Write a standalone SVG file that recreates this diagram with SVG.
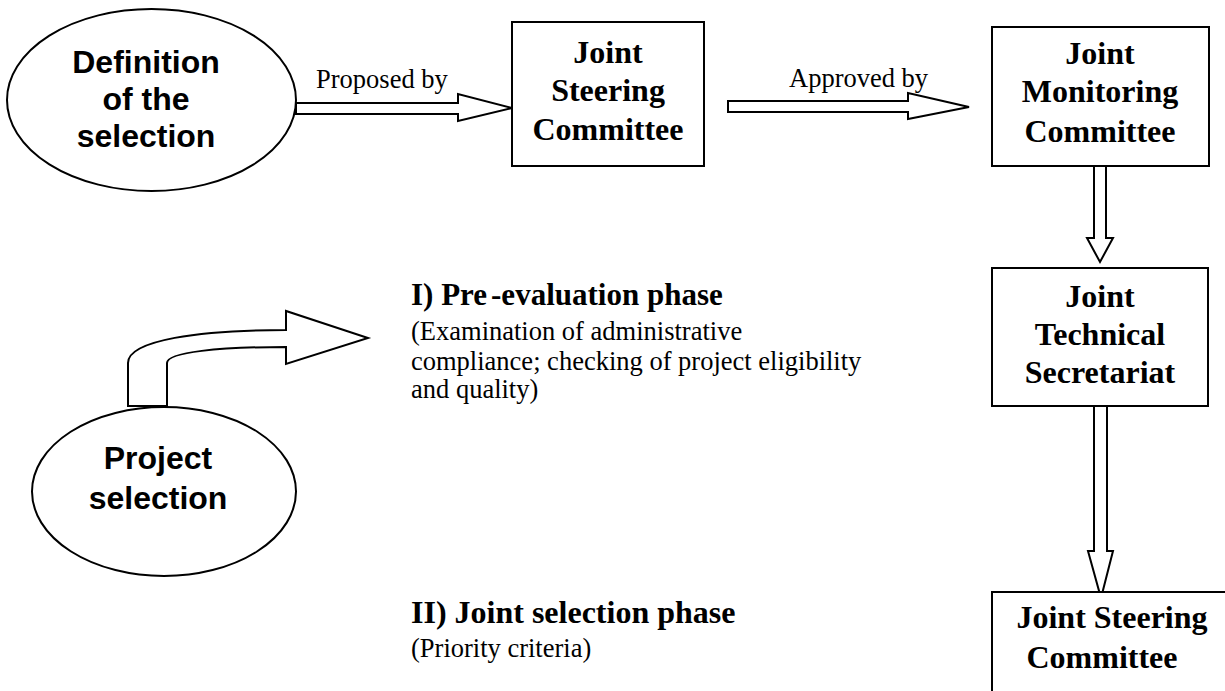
<svg xmlns="http://www.w3.org/2000/svg" width="1225" height="691" viewBox="0 0 1225 691">
<style>
.shape{fill:#fff;stroke:#000;stroke-width:2}
.arr{fill:#fff;stroke:#000;stroke-width:2;stroke-linejoin:miter}
.sans{font-family:"Liberation Sans",Arial,sans-serif;font-weight:bold;font-size:32px;text-anchor:middle}
.serifb{font-family:"Liberation Serif","Times New Roman",serif;font-weight:bold;font-size:32px;text-anchor:middle}
.head{font-family:"Liberation Serif","Times New Roman",serif;font-weight:bold;font-size:31px}
.body{font-family:"Liberation Serif","Times New Roman",serif;font-size:26.5px}
</style>
<rect width="1225" height="691" fill="#fff"/>
<g id="connectors">
<path class="arr" d="M296,103 L458,103 L458,94 L512,108 L458,121 L458,114 L296,114 Z"/>
<path class="arr" d="M728,101 L908,101 L908,93 L969,107 L908,119 L908,112 L728,112 Z"/>
<path class="arr" d="M1094,166 L1094,238 L1087,238 L1100,262 L1113,238 L1106,238 L1106,166 Z"/>
<path class="arr" d="M1094,406 L1094,551 L1088,551 L1101,598 L1113,551 L1107,551 L1107,406 Z"/>
<path class="arr" d="M128,406 L128,363 C128,340 200,330 286,330 L286,311 L368,338 L286,364 L286,347 C220,347 167,352 167,363 L167,406 Z"/>
</g>
<g id="definition">
<ellipse class="shape" cx="151.5" cy="100" rx="144.5" ry="91"/>
<text class="sans" x="146" y="73">Definition</text>
<text class="sans" x="146" y="110">of the</text>
<text class="sans" x="146" y="147">selection</text>
</g>
<g id="label-proposed"><text class="body" x="316" y="88">Proposed by</text></g>
<g id="jsc1">
<rect class="shape" x="512" y="22" width="192" height="144"/>
<text class="serifb" x="608" y="63">Joint</text>
<text class="serifb" x="608" y="101">Steering</text>
<text class="serifb" x="608" y="140">Committee</text>
</g>
<g id="label-approved"><text class="body" x="789" y="87">Approved by</text></g>
<g id="jmc">
<rect class="shape" x="992" y="27" width="217" height="139"/>
<text class="serifb" x="1100" y="64">Joint</text>
<text class="serifb" x="1100" y="102">Monitoring</text>
<text class="serifb" x="1100" y="142">Committee</text>
</g>
<g id="jts">
<rect class="shape" x="992" y="268" width="216" height="138"/>
<text class="serifb" x="1100" y="307">Joint</text>
<text class="serifb" x="1100" y="345">Technical</text>
<text class="serifb" x="1100" y="383">Secretariat</text>
</g>
<g id="jsc2">
<path class="shape" d="M992,700 L992,592 L1230,592" fill="none"/>
<text class="serifb" x="1112" y="628">Joint Steering</text>
<text class="serifb" x="1102" y="668">Committee</text>
</g>
<g id="project">
<ellipse class="shape" cx="164" cy="491.5" rx="132" ry="84.5"/>
<text class="sans" x="158" y="469">Project</text>
<text class="sans" x="158" y="509">selection</text>
</g>
<g id="phase1">
<text class="head" x="411" y="305">I) Pre<tspan dx="4">-evaluation phase</tspan></text>
<text class="body" x="411" y="340">(Examination of administrative</text>
<text class="body" x="411" y="370">compliance; checking of project eligibility</text>
<text class="body" x="411" y="398">and quality)</text>
</g>
<g id="phase2">
<text class="head" x="411" y="623" style="font-size:32px">II) Joint selection phase</text>
<text class="body" x="411" y="657">(Priority criteria)</text>
</g>
</svg>
